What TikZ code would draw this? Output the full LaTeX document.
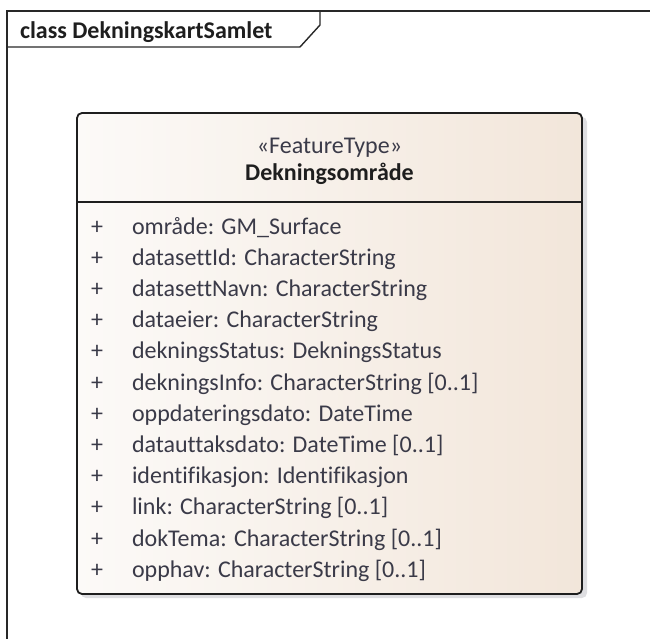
\documentclass[tikz,border=0pt]{standalone}
\usepackage{fontspec}
\setmainfont{Carlito}[Ligatures=NoCommon]
\definecolor{frameline}{RGB}{40,40,40}
\definecolor{boxline}{RGB}{30,30,30}
\definecolor{boxleft}{RGB}{252,250,248}
\definecolor{boxright}{RGB}{242,230,218}
\definecolor{attrcol}{RGB}{58,58,72}
\definecolor{headcol}{RGB}{30,30,30}
\definecolor{shadowcol}{RGB}{200,200,205}
\begin{document}
\begin{tikzpicture}[x=1pt,y=-1pt,
  every node/.style={inner sep=0pt, outer sep=0pt},
  framestroke/.style={draw=frameline, line width=1.4pt},
  titletext/.style={font=\fontsize{24}{28}\selectfont\bfseries, text=headcol, anchor=base west},
  classbox/.style={draw=boxline, line width=1.8pt, rounded corners=5pt, left color=boxleft, right color=boxright, minimum width=505pt, minimum height=481pt},
  stereo/.style={font=\fontsize{24}{28}\selectfont, text=attrcol, anchor=base},
  cname/.style={font=\fontsize{24}{28}\selectfont\bfseries, text=headcol, anchor=base},
  plussign/.style={font=\fontsize{24}{28}\selectfont, text=attrcol, anchor=base},
  attr/.style={font=\fontsize{24}{28}\selectfont, text=attrcol, anchor=base west}
]
\useasboundingbox (0,0) rectangle (650,639);
% frame
\coordinate (fbl) at (7,639);
\coordinate (ftl) at (7,11);
\coordinate (ftr) at (650,11);
\coordinate (lb1) at (7,47);
\coordinate (lb2) at (300,47);
\coordinate (lb3) at (320,25);
\coordinate (lb4) at (320,11);
\draw[framestroke] (fbl) -- (ftl) -- (ftr);
\draw[framestroke] (lb1) -- (lb2) -- (lb3) -- (lb4);
\node[titletext] (title) at (20,39) {class DekningskartSamlet};
% shadow
\fill[shadowcol, opacity=0.6, rounded corners=5pt] (81,117) rectangle (587,598);
% class box
\node[classbox] (cls) at (329.5,353.5) {};
\coordinate (divl) at (77,202);
\coordinate (divr) at (582,202);
\draw[draw=boxline, line width=1.8pt] (divl) -- (divr);
\node[stereo] (st) at (329.5,154) {«FeatureType»};
\node[cname] (nm) at (329.5,181) {Dekningsområde};
% attributes
\foreach \i/\t in {0/{område: GM\_Surface},1/{datasettId: CharacterString},2/{datasettNavn: CharacterString},3/{dataeier: CharacterString},4/{dekningsStatus: DekningsStatus},5/{dekningsInfo: CharacterString [0..1]},6/{oppdateringsdato: DateTime},7/{datauttaksdato: DateTime [0..1]},8/{identifikasjon: Identifikasjon},9/{link: CharacterString [0..1]},10/{dokTema: CharacterString [0..1]},11/{opphav: CharacterString [0..1]}}{
  \node[plussign] (p\i) at (97,234+31.2*\i) {+};
  \node[attr] (a\i) at (132,234+31.2*\i) {\t};
}
\end{tikzpicture}
\end{document}
